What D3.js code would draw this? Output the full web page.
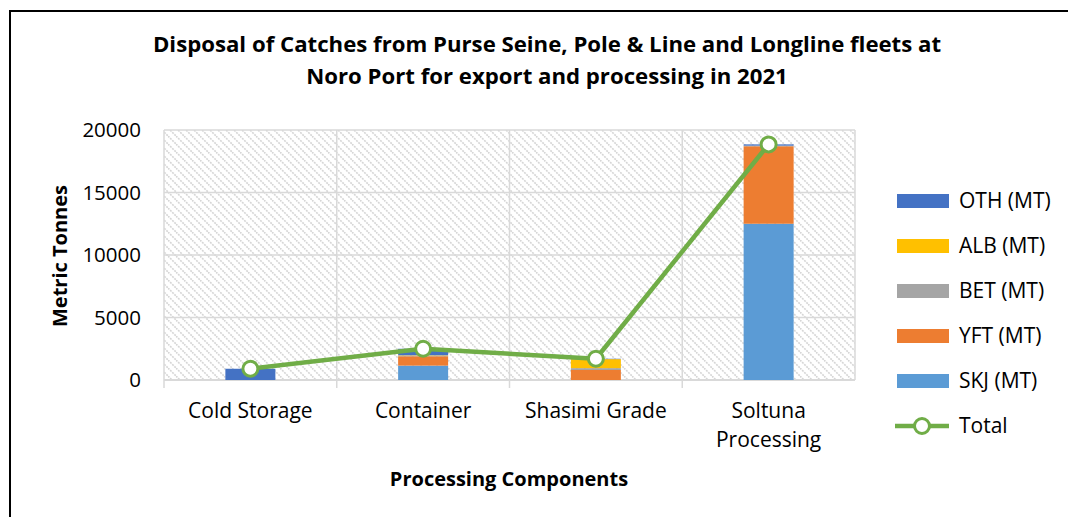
<!DOCTYPE html>
<html>
<head>
<meta charset="utf-8">
<script src="https://cdn.jsdelivr.net/npm/d3@7"></script>
<style>
  body { margin: 0; background: #fff; }
  svg { display: block; font-family: "Open Sans", "Noto Sans", sans-serif; }
</style>
</head>
<body>
<svg id="chart" width="1068" height="517"></svg>
<script>
// DATA
const categories = ["Cold Storage", "Container", "Shasimi Grade", "Soltuna Processing"];
const skj = [0, 1150, 0, 12500];
const yft = [0, 750, 800, 6200];
const bet = [0, 50, 150, 50];
const alb = [0, 30, 720, 0];
const oth = [900, 520, 30, 100];
const totals = [900, 2500, 1700, 18850];
const yTicks = [0, 5000, 10000, 15000, 20000];

// series in stacking order (bottom -> top)
const series = [
    {key: "SKJ (MT)", values: skj, color: "#5B9BD5"},
    {key: "YFT (MT)", values: yft, color: "#ED7D31"},
    {key: "BET (MT)", values: bet, color: "#A5A5A5"},
    {key: "ALB (MT)", values: alb, color: "#FFC000"},
    {key: "OTH (MT)", values: oth, color: "#4472C4"}
];
const lineColor = "#70AD47";

// LAYOUT
const svg = d3.select("#chart");
const plot = {left: 164, right: 855, top: 130, bottom: 380};

// frame around the chart
svg.append("rect")
    .attr("x", 10).attr("y", 11)
    .attr("width", 1080).attr("height", 520)
    .attr("fill", "none")
    .attr("stroke", "#000")
    .attr("stroke-width", 2);

// hatched background pattern
const pattern = svg.append("defs").append("pattern")
    .attr("id", "hatch")
    .attr("patternUnits", "userSpaceOnUse")
    .attr("width", 8).attr("height", 8);
pattern.append("rect").attr("width", 8).attr("height", 8).attr("fill", "#fff");
pattern.append("path")
    .attr("d", "M0,0 L8,8 M-4,4 L4,12 M4,-4 L12,4")
    .attr("stroke", "#d6d6d6")
    .attr("stroke-width", 1.6)
    .attr("stroke-dasharray", "2,1");

// SCALES
const x = d3.scaleBand()
    .domain(categories)
    .range([plot.left, plot.right]);
const y = d3.scaleLinear()
    .domain([0, 20000])
    .range([plot.bottom, plot.top]);

// plot background
svg.append("rect")
    .attr("x", plot.left).attr("y", plot.top)
    .attr("width", plot.right - plot.left)
    .attr("height", plot.bottom - plot.top)
    .attr("fill", "url(#hatch)");

// horizontal grid lines
svg.append("g")
    .selectAll("line")
    .data(yTicks)
    .enter().append("line")
    .attr("x1", plot.left).attr("x2", plot.right)
    .attr("y1", d => y(d)).attr("y2", d => y(d))
    .attr("stroke", "#d9d9d9")
    .attr("stroke-width", d => d === 0 ? 2 : 1.5);

// vertical grid lines at category boundaries (and ticks below axis)
const bounds = categories.map(c => x(c)).concat([plot.right]);
svg.append("g")
    .selectAll("line")
    .data(bounds)
    .enter().append("line")
    .attr("x1", d => d).attr("x2", d => d)
    .attr("y1", plot.top)
    .attr("y2", (d, i) => i === bounds.length - 1 ? plot.bottom : plot.bottom + 8)
    .attr("stroke", "#d9d9d9")
    .attr("stroke-width", 1.5);

// y axis labels
svg.append("g")
    .selectAll("text")
    .data(yTicks)
    .enter().append("text")
    .attr("x", 141)
    .attr("y", d => y(d))
    .attr("dy", "0.35em")
    .attr("text-anchor", "end")
    .attr("font-size", 20.5)
    .attr("fill", "#000")
    .text(d => d);

// x axis labels
const xLabels = svg.append("g")
    .selectAll("text")
    .data(categories)
    .enter().append("text")
    .attr("x", d => x(d) + x.bandwidth() / 2)
    .attr("y", 418)
    .attr("text-anchor", "middle")
    .attr("font-size", 21)
    .attr("fill", "#000");
xLabels.each(function (d) {
    const words = d === "Soltuna Processing" ? ["Soltuna", "Processing"] : [d];
    const t = d3.select(this);
    words.forEach((w, i) => {
        t.append("tspan")
            .attr("x", x(d) + x.bandwidth() / 2)
            .attr("dy", i === 0 ? 0 : 29)
            .text(w);
    });
});

// STACKED BARS
const stackData = categories.map((c, i) => {
    const row = {category: c};
    series.forEach(s => row[s.key] = s.values[i]);
    return row;
});
const stack = d3.stack().keys(series.map(s => s.key));
const stacked = stack(stackData);
const barWidth = 50;

svg.append("g")
    .selectAll("g")
    .data(stacked)
    .enter().append("g")
    .attr("fill", (d, i) => series[i].color)
    .selectAll("rect")
    .data(d => d)
    .enter().append("rect")
    .attr("x", d => x(d.data.category) + x.bandwidth() / 2 - barWidth / 2)
    .attr("y", d => y(d[1]))
    .attr("width", barWidth)
    .attr("height", d => y(d[0]) - y(d[1]));

// TOTAL LINE
const line = d3.line()
    .x((d, i) => x(categories[i]) + x.bandwidth() / 2)
    .y(d => y(d));
svg.append("path")
    .datum(totals)
    .attr("d", line)
    .attr("fill", "none")
    .attr("stroke", lineColor)
    .attr("stroke-width", 4.5)
    .attr("stroke-linejoin", "round");
svg.append("g")
    .selectAll("circle")
    .data(totals)
    .enter().append("circle")
    .attr("cx", (d, i) => x(categories[i]) + x.bandwidth() / 2)
    .attr("cy", d => y(d))
    .attr("r", 7.5)
    .attr("fill", "#fff")
    .attr("stroke", lineColor)
    .attr("stroke-width", 3);

// TITLES
const title = svg.append("text")
    .attr("text-anchor", "middle")
    .attr("font-size", 22.2)
    .attr("font-weight", "bold")
    .attr("fill", "#000");
["Disposal of Catches from Purse Seine, Pole & Line and Longline fleets at",
 "Noro Port for export and processing in 2021"].forEach((l, i) => {
    title.append("tspan")
        .attr("x", 547)
        .attr("y", 52 + i * 32)
        .text(l);
});

svg.append("text")
    .attr("x", 509).attr("y", 486)
    .attr("text-anchor", "middle")
    .attr("font-size", 20)
    .attr("font-weight", "bold")
    .text("Processing Components");

svg.append("text")
    .attr("transform", "translate(67,256) rotate(-90)")
    .attr("text-anchor", "middle")
    .attr("font-size", 20)
    .attr("font-weight", "bold")
    .text("Metric Tonnes");

// LEGEND
const legendItems = series.slice().reverse().concat([{key: "Total", color: lineColor, isLine: true}]);
const legend = svg.append("g")
    .selectAll("g")
    .data(legendItems)
    .enter().append("g")
    .attr("transform", (d, i) => `translate(897,${201 + i * 45})`);
legend.filter(d => !d.isLine).append("rect")
    .attr("x", 0).attr("y", -7)
    .attr("width", 52).attr("height", 14)
    .attr("fill", d => d.color);
legend.filter(d => d.isLine).append("line")
    .attr("x1", -2).attr("x2", 52)
    .attr("stroke", lineColor)
    .attr("stroke-width", 4.5);
legend.filter(d => d.isLine).append("circle")
    .attr("cx", 25).attr("r", 7.5)
    .attr("fill", "#fff")
    .attr("stroke", lineColor)
    .attr("stroke-width", 3);
legend.append("text")
    .attr("x", 62)
    .attr("dy", "0.35em")
    .attr("font-size", 21)
    .text(d => d.key);
</script>
</body>
</html>
